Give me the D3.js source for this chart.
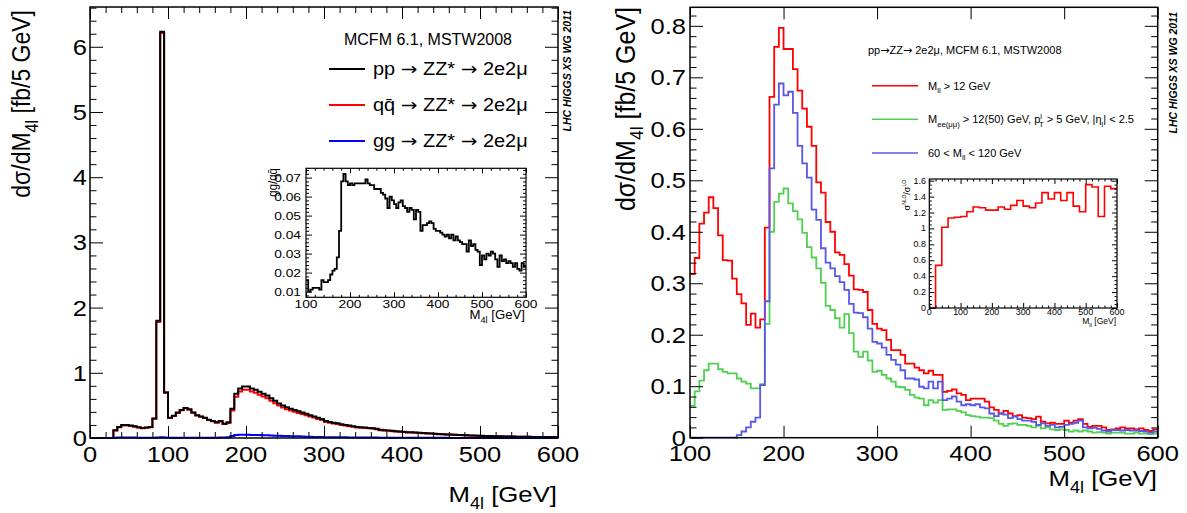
<!DOCTYPE html>
<html><head><meta charset="utf-8">
<script src="https://cdn.jsdelivr.net/npm/d3@7"></script>
<style>body{margin:0;background:#fff}svg{display:block}text{font-family:"Liberation Sans",Arial,Helvetica,sans-serif}</style>
</head><body><svg id="c" width="1187" height="513"></svg>
<script>
// ---------------- DATA ----------------
// Left panel: 5 GeV bins from 0 to 600 (low edges)
const leftBins = d3.range(0, 600, 5);
const ppTotal = [0,0,0,0,0,0,
 0.12,0.17,0.2,0.2,0.19,0.18,0.165,0.155,0.16,0.17,0.3,1.8,6.23,0.7,
 0.31,0.34,0.39,0.43,0.46,0.44,0.39,0.35,0.33,0.31,0.28,0.26,0.24,0.26,0.22,0.24,
 0.45,0.68,0.76,0.79,0.79,0.76,0.74,0.71,0.68,0.65,0.61,0.57,0.53,0.5,0.47,0.45,0.43,0.41,0.39,0.37,0.35,0.33,0.31,0.29,
 0.26,0.245,0.235,0.225,0.21,0.2,0.19,0.18,0.17,0.165,0.16,0.155,0.15,0.14,0.125,0.12,0.115,0.11,0.105,0.1,
 0.095,0.09,0.088,0.084,0.08,0.075,0.072,0.07,0.065,0.06,0.058,0.055,0.052,0.05,0.047,0.045,0.042,0.04,0.037,0.035,
 0.033,0.031,0.03,0.028,0.027,0.025,0.024,0.023,0.022,0.021,0.02,0.019,0.018,0.017,0.016,0.016,0.015,0.014,0.014,0.013];
const qqbar = [0,0,0,0,0,0,
 0.116,0.164,0.192,0.192,0.183,0.174,0.16,0.151,0.156,0.166,0.295,1.78,6.21,0.69,
 0.305,0.336,0.385,0.425,0.455,0.435,0.386,0.345,0.325,0.305,0.276,0.255,0.235,0.254,0.214,0.23,
 0.421,0.634,0.712,0.741,0.741,0.713,0.694,0.665,0.637,0.609,0.572,0.534,0.497,0.469,0.441,0.423,0.404,0.385,0.367,0.349,0.33,0.313,0.293,0.275,
 0.247,0.233,0.223,0.213,0.199,0.19,0.181,0.171,0.161,0.157,0.152,0.148,0.144,0.134,0.12,0.115,0.11,0.105,0.101,0.096,
 0.091,0.086,0.0845,0.0807,0.077,0.072,0.069,0.0673,0.0625,0.0578,0.0559,0.053,0.0502,0.0484,0.0453,0.0435,0.0406,0.0387,0.0359,0.0341,
 0.032,0.0301,0.0291,0.0272,0.0262,0.0242,0.0233,0.0225,0.0214,0.0204,0.0195,0.0185,0.0175,0.0166,0.0156,0.0156,0.0147,0.0137,0.0137,0.0127];
const ggFusion = [0,0,0,0,0,0,
 0.004,0.006,0.008,0.008,0.007,0.006,0.005,0.004,0.004,0.004,0.005,0.008,0.012,0.008,
 0.005,0.004,0.005,0.005,0.005,0.005,0.004,0.005,0.005,0.005,0.004,0.005,0.005,0.006,0.006,0.01,
 0.029,0.046,0.048,0.049,0.049,0.047,0.046,0.045,0.043,0.041,0.038,0.036,0.033,0.031,0.029,0.027,0.026,0.025,0.023,0.021,0.02,0.017,0.017,0.015,
 0.013,0.012,0.012,0.012,0.011,0.010,0.009,0.009,0.009,0.008,0.008,0.007,0.006,0.006,0.005,0.005,0.005,0.005,0.004,0.004,
 0.004,0.004,0.0035,0.0033,0.003,0.003,0.003,0.0027,0.0025,0.0022,0.0021,0.002,0.0018,0.0016,0.0017,0.0015,0.0014,0.0013,0.0011,0.0009,
 0.001,0.0009,0.0009,0.0008,0.0008,0.0008,0.0007,0.0005,0.0006,0.0006,0.0005,0.0005,0.0005,0.0004,0.0004,0.0004,0.0003,0.0003,0.0003,0.0003];
// Left inset: gg/qqbar ratio, 5 GeV bins 100-600
const ratioBins = d3.range(100, 600, 5);
const ggOverQQ = [0.016,0.010,0.011,0.012,0.012,0.012,0.011,0.016,0.015,0.015,
 0.016,0.019,0.021,0.022,0.028,0.042,0.068,0.072,0.068,0.066,
 0.067,0.066,0.067,0.067,0.067,0.067,0.067,0.069,0.067,0.066,
 0.066,0.064,0.064,0.064,0.062,0.061,0.059,0.054,0.060,0.058,
 0.056,0.054,0.057,0.058,0.055,0.054,0.052,0.054,0.053,0.048,
 0.053,0.052,0.042,0.045,0.045,0.046,0.047,0.046,0.043,0.042,
 0.042,0.041,0.040,0.039,0.040,0.038,0.040,0.037,0.039,0.037,
 0.036,0.035,0.035,0.031,0.037,0.034,0.035,0.032,0.031,0.024,
 0.029,0.027,0.030,0.029,0.031,0.030,0.027,0.023,0.029,0.026,
 0.027,0.025,0.026,0.025,0.023,0.025,0.022,0.021,0.025,0.023];
// Right panel: 5 GeV bins 100-600
const rightBins = d3.range(100, 600, 5);
const mllAbove12 = [0.318,0.349,0.416,0.437,0.467,0.446,0.393,0.345,0.344,0.309,
 0.279,0.261,0.219,0.241,0.214,0.23,0.408,0.662,0.759,0.796,
 0.755,0.755,0.716,0.674,0.639,0.604,0.567,0.496,0.476,0.419,
 0.4,0.36,0.355,0.337,0.315,0.288,0.287,0.283,0.248,0.221,
 0.212,0.209,0.19,0.17,0.17,0.161,0.144,0.144,0.136,0.131,
 0.125,0.13,0.122,0.122,0.089,0.091,0.094,0.086,0.083,0.073,
 0.076,0.076,0.076,0.07,0.059,0.054,0.047,0.052,0.047,0.042,
 0.044,0.039,0.038,0.036,0.041,0.031,0.028,0.029,0.027,0.027,
 0.033,0.029,0.033,0.036,0.027,0.021,0.023,0.023,0.02,0.015,
 0.016,0.018,0.02,0.018,0.018,0.016,0.018,0.015,0.013,0.016];
const leptonCuts = [0.062,0.09,0.111,0.131,0.144,0.144,0.133,0.128,0.125,0.125,
 0.115,0.109,0.105,0.096,0.096,0.104,0.221,0.4,0.458,0.474,
 0.484,0.455,0.44,0.424,0.398,0.37,0.35,0.329,0.301,0.256,
 0.248,0.232,0.214,0.24,0.203,0.167,0.157,0.167,0.15,0.128,
 0.13,0.122,0.115,0.109,0.099,0.098,0.093,0.083,0.078,0.076,
 0.063,0.073,0.068,0.073,0.054,0.055,0.055,0.052,0.049,0.044,
 0.042,0.041,0.039,0.039,0.038,0.033,0.027,0.023,0.027,0.028,
 0.025,0.025,0.023,0.02,0.023,0.018,0.02,0.016,0.015,0.016,
 0.015,0.012,0.014,0.012,0.014,0.012,0.01,0.011,0.01,0.008,
 0.01,0.01,0.01,0.008,0.008,0.01,0.008,0.008,0.007,0.008];
const mllZWindow = [0,0,0,0,0,0,0,0,0,0,
 0.005,0.012,0.02,0.031,0.039,0.102,0.265,0.523,0.647,0.688,
 0.665,0.672,0.631,0.567,0.533,0.505,0.443,0.423,0.368,0.34,
 0.329,0.314,0.302,0.287,0.26,0.243,0.242,0.234,0.212,0.186,
 0.183,0.175,0.161,0.151,0.142,0.131,0.115,0.115,0.113,0.099,
 0.096,0.109,0.096,0.109,0.073,0.076,0.08,0.07,0.063,0.065,
 0.063,0.065,0.059,0.057,0.047,0.042,0.047,0.045,0.038,0.041,
 0.036,0.033,0.033,0.031,0.025,0.028,0.023,0.025,0.02,0.021,
 0.025,0.027,0.029,0.033,0.02,0.018,0.019,0.017,0.014,0.012,
 0.015,0.015,0.014,0.015,0.014,0.014,0.013,0.012,0.01,0.012];
// Right inset: NLO/LO ratio, 20 GeV bins 0-600
const kBins = d3.range(0, 600, 20);
const nloOverLo = [0,0.535,1.015,1.13,1.14,1.15,1.21,1.27,1.26,1.23,
 1.23,1.27,1.24,1.29,1.35,1.28,1.26,1.32,1.45,1.37,
 1.45,1.35,1.45,1.28,1.21,1.55,1.52,1.15,1.53,1.50];
// Tick labels
const leftXTicks = [0,100,200,300,400,500,600];
const leftYTicks = [0,1,2,3,4,5,6];
const insetLXTicks = [100,200,300,400,500,600];
const insetLYTicks = [0.01,0.02,0.03,0.04,0.05,0.06,0.07];
const rightXTicks = [100,200,300,400,500,600];
const rightYTicks = [0,0.1,0.2,0.3,0.4,0.5,0.6,0.7,0.8];
const insetRXTicks = [0,100,200,300,400,500,600];
const insetRYTicks = [0,0.2,0.4,0.6,0.8,1,1.2,1.4,1.6];

// ---------------- DRAW ----------------
const svg = d3.select("#c");
const ARROW = {t: "\u2192", font: "DejaVu Sans"};

function label(g, x, y, parts, size, opts) {
  const o = Object.assign({anchor:"start", sx:1, rot:0, weight:"normal", style:"normal", fill:"#000"}, opts || {});
  const t = g.append("text")
    .attr("transform", `translate(${x},${y}) scale(${o.sx},1)` + (o.rot ? ` rotate(${o.rot})` : ""))
    .attr("text-anchor", o.anchor).attr("font-size", size)
    .attr("font-weight", o.weight).attr("font-style", o.style).attr("fill", o.fill);
  let shift = 0;
  (Array.isArray(parts) ? parts : [parts]).forEach(p => {
    if (typeof p === "string") p = {t: p};
    const target = p.sub ? size * 0.3 : p.sup ? -size * 0.4 : 0;
    const ts = t.append("tspan").text(p.t).attr("dy", target - shift);
    if (p.dx) ts.attr("dx", p.dx);
    if (p.font) ts.attr("font-family", p.font);
    shift = target;
    if (p.sub || p.sup) ts.attr("font-size", size * (p.small || 0.7));
  });
  return t;
}

function frameTicks(g, x, y, o) {
  const [x0, x1] = x.range(), [y0, y1] = y.range();
  const mk = (axisFn, sc, vals, len, tr) => {
    const a = g.append("g").attr("transform", tr)
      .call(axisFn(sc).tickValues(vals).tickSize(-len).tickFormat(""));
    a.select(".domain").remove();
    a.selectAll("line").attr("stroke", "#000").attr("stroke-width", o.tw || 1);
  };
  mk(d3.axisBottom, x, o.xMaj, o.xl, `translate(0,${y0})`);
  mk(d3.axisTop, x, o.xMaj, o.xl, `translate(0,${y1})`);
  if (o.xMin) { mk(d3.axisBottom, x, o.xMin, o.xl / 2, `translate(0,${y0})`); mk(d3.axisTop, x, o.xMin, o.xl / 2, `translate(0,${y1})`); }
  mk(d3.axisLeft, y, o.yMaj, o.yl, `translate(${x0},0)`);
  mk(d3.axisRight, y, o.yMaj, o.yl, `translate(${x1},0)`);
  if (o.yMin) { mk(d3.axisLeft, y, o.yMin, o.yl / 2, `translate(${x0},0)`); mk(d3.axisRight, y, o.yMin, o.yl / 2, `translate(${x1},0)`); }
  g.append("rect").attr("x", x0).attr("y", y1).attr("width", x1 - x0).attr("height", y0 - y1)
    .attr("fill", "none").attr("stroke", "#000").attr("stroke-width", o.fw || 1.5);
}

function hist(g, x, y, bins, vals, width, color, sw) {
  const pts = bins.map((b, i) => [b, vals[i]]);
  pts.push([bins[bins.length - 1] + width, vals[vals.length - 1]]);
  g.append("path").datum(pts)
    .attr("d", d3.line().x(d => x(d[0])).y(d => y(d[1])).curve(d3.curveStepAfter))
    .attr("fill", "none").attr("stroke", color).attr("stroke-width", sw).attr("stroke-linejoin", "miter");
}
const minor = (a, b, s, m) => d3.range(a, b + s / 2, s).filter(v => Math.abs(v / m - Math.round(v / m)) > 1e-6);
const fmt = v => String(+v.toFixed(3));

// ===== LEFT PANEL =====
const L = svg.append("g");
const xL = d3.scaleLinear([0, 600], [90, 558]);
const yL = d3.scaleLinear([0, 6.61], [438, 7]);
hist(L, xL, yL, leftBins, qqbar, 5, "#ff0000", 2);
hist(L, xL, yL, leftBins, ppTotal, 5, "#000000", 2);
hist(L, xL, yL, leftBins, ggFusion, 5, "#0000ff", 2);
frameTicks(L, xL, yL, {xMaj: leftXTicks, xMin: minor(0, 600, 20, 100), xl: 12,
  yMaj: leftYTicks, yMin: minor(0, 6.6, 0.2, 1), yl: 13});
leftXTicks.forEach(v => label(L, xL(v), 462, fmt(v), 22, {anchor: "middle", sx: 1.16}));
leftYTicks.forEach(v => label(L, 87, yL(v) + 8, fmt(v), 22, {anchor: "end", sx: 1.16}));
label(L, 557, 502, ["M", {t: "4l", sub: 1}, " [GeV]"], 23, {anchor: "end", sx: 1.12});
label(L, 30, 10, ["d\u03c3/dM", {t: "4l", sub: 1}, " [fb/5 GeV]"], 23, {anchor: "end", rot: -90, sx: 1.1});
label(L, 571, 10, "LHC HIGGS XS WG 2011", 10.5, {anchor: "end", rot: -90, weight: "bold", style: "italic", sx: 1.1});
// legend
label(L, 428, 45, "MCFM 6.1, MSTW2008", 16, {anchor: "middle"});
const legL = [
  {c: "#000000", parts: ["pp ", ARROW, " ZZ* ", ARROW, " 2e2\u03bc"]},
  {c: "#ff0000", parts: ["qq\u0304 ", ARROW, " ZZ* ", ARROW, " 2e2\u03bc"]},
  {c: "#0000ff", parts: ["gg ", ARROW, " ZZ* ", ARROW, " 2e2\u03bc"]}];
const legLy = d3.scalePoint().domain(d3.range(legL.length)).range([69, 141]);
legL.forEach((e, i) => {
  L.append("line").attr("x1", 329).attr("x2", 365).attr("y1", legLy(i)).attr("y2", legLy(i))
    .attr("stroke", e.c).attr("stroke-width", 2);
  label(L, 373, legLy(i) + 6, e.parts, 17.5, {sx: 1.14});
});
// inset
const LI = svg.append("g");
const xLi = d3.scaleLinear([100, 600], [306, 526]);
const yLi = d3.scaleLinear([0.007, 0.0749], [297.3, 168.3]);
LI.append("rect").attr("x", 306).attr("y", 168.3).attr("width", 220).attr("height", 129).attr("fill", "#fff");
hist(LI, xLi, yLi, ratioBins, ggOverQQ, 5, "#000", 1.8);
frameTicks(LI, xLi, yLi, {xMaj: insetLXTicks, xMin: minor(100, 600, 20, 100), xl: 5,
  yMaj: insetLYTicks, yMin: minor(0.008, 0.074, 0.002, 0.01), yl: 6, fw: 1.2});
insetLXTicks.forEach(v => label(LI, xLi(v), 308, fmt(v), 11.5, {anchor: "middle", sx: 1.2}));
insetLYTicks.forEach(v => label(LI, 301, yLi(v) + 4, fmt(v), 11.5, {anchor: "end", sx: 1.2}));
label(LI, 525, 319, ["M", {t: "4l", sub: 1}, " [GeV]"], 12, {anchor: "end", sx: 1.1});
label(LI, 277, 168, ["gg/qq\u0304"], 11.5, {anchor: "end", rot: -90, sx: 1.1});

// ===== RIGHT PANEL =====
const R = svg.append("g");
const xR = d3.scaleLinear([100, 600], [690, 1157.7]);
const yR = d3.scaleLinear([0, 0.836], [437.7, 7.3]);
hist(R, xR, yR, rightBins, mllAbove12, 5, "#ff0000", 1.8);
hist(R, xR, yR, rightBins, leptonCuts, 5, "#50d050", 1.8);
hist(R, xR, yR, rightBins, mllZWindow, 5, "#5858e8", 1.8);
frameTicks(R, xR, yR, {xMaj: rightXTicks, xl: 12,
  yMaj: rightYTicks, yMin: minor(0, 0.83, 0.02, 0.1), yl: 13});
rightXTicks.forEach(v => label(R, xR(v), 461, fmt(v), 22, {anchor: "middle", sx: 1.16}));
rightYTicks.forEach(v => label(R, 686, yR(v) + 8, fmt(v), 22, {anchor: "end", sx: 1.16}));
label(R, 1157, 486, ["M", {t: "4l", sub: 1}, " [GeV]"], 23, {anchor: "end", sx: 1.12});
label(R, 635, 7, ["d\u03c3/dM", {t: "4l", sub: 1}, " [fb/5 GeV]"], 25, {anchor: "end", rot: -90, sx: 1.1});
label(R, 1177, 12, "LHC HIGGS XS WG 2011", 10.5, {anchor: "end", rot: -90, weight: "bold", style: "italic", sx: 1.1});
label(R, 868, 54, ["pp", ARROW, "ZZ", ARROW, " 2e2\u03bc, MCFM 6.1, MSTW2008"], 11, {});
const legR = [
  {c: "#ff0000", parts: ["M", {t: "ll", sub: 1}, " > 12 GeV"]},
  {c: "#50d050", parts: ["M", {t: "ee(\u03bc\u03bc)", sub: 1}, " > 12(50) GeV, p", {t: "l", sup: 1}, {t: "T", sub: 1, dx: -3}, " > 5 GeV, |\u03b7", {t: "l", sub: 1}, "| < 2.5"]},
  {c: "#5858e8", parts: ["60 < M", {t: "ll", sub: 1}, " < 120 GeV"]}];
const legRy = d3.scalePoint().domain(d3.range(legR.length)).range([85.7, 153]);
legR.forEach((e, i) => {
  R.append("line").attr("x1", 872).attr("x2", 918).attr("y1", legRy(i)).attr("y2", legRy(i))
    .attr("stroke", e.c).attr("stroke-width", 1.5);
  label(R, 928, legRy(i) + 4, e.parts, 11, {});
});
// inset
const RI = svg.append("g");
const xRi = d3.scaleLinear([0, 600], [929.3, 1117]);
const yRi = d3.scaleLinear([0, 1.621], [308, 179]);
RI.append("rect").attr("x", 929.3).attr("y", 179).attr("width", 187.7).attr("height", 129).attr("fill", "#fff");
hist(RI, xRi, yRi, kBins, nloOverLo, 20, "#ff0000", 1.6);
frameTicks(RI, xRi, yRi, {xMaj: insetRXTicks, xMin: minor(0, 600, 20, 100), xl: 5,
  yMaj: insetRYTicks, yMin: minor(0, 1.6, 0.05, 0.2), yl: 5, fw: 1.2});
insetRXTicks.forEach(v => label(RI, xRi(v), 315, fmt(v), 8.5, {anchor: "middle", sx: 1.05}));
insetRYTicks.forEach(v => label(RI, 926, yRi(v) + 3, fmt(v), 8.5, {anchor: "end", sx: 1.05}));
label(RI, 1116, 324, ["M", {t: "ll", sub: 1}, " [GeV]"], 8.5, {anchor: "end"});
label(RI, 910, 180, ["\u03c3", {t: "NLO", sup: 1, small: 0.55}, "/\u03c3", {t: "LO", sup: 1, small: 0.55}], 9, {anchor: "end", rot: -90});
</script></body></html>
